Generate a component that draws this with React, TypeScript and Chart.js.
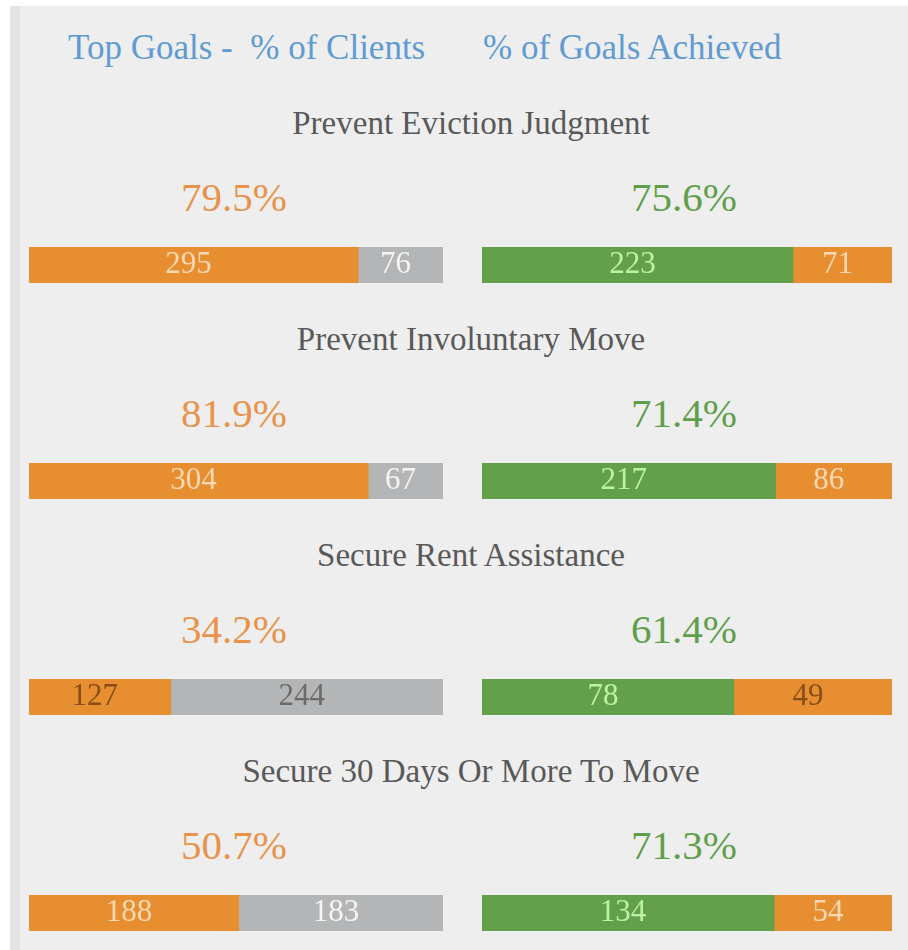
import React, { useEffect, useRef } from "react";
import { Chart, registerables } from "chart.js";

Chart.register(...registerables);

// ---- data ----
const goals = [
  "Prevent Eviction Judgment",
  "Prevent Involuntary Move",
  "Secure Rent Assistance",
  "Secure 30 Days Or More To Move",
];
const clientsWithGoal = [295, 304, 127, 188];
const clientsWithoutGoal = [76, 67, 244, 183];
const goalsAchieved = [223, 217, 78, 134];
const goalsNotAchieved = [71, 86, 49, 54];
const clientPct = [79.5, 81.9, 34.2, 50.7];
const achievedPct = [75.6, 71.4, 61.4, 71.3];
const headerLeft = "Top Goals -  % of Clients";
const headerRight = "% of Goals Achieved";

// ---- styles ----
const ORANGE = "#e78f30";
const GRAY = "#b3b5b6";
const GREEN = "#62a04b";
const LIGHT_ORANGE_TXT = "#f9d9b4";
const LIGHT_GRAY_TXT = "#f4f4f4";
const LIGHT_GREEN_TXT = "#bdf1a6";
const DARK_ORANGE_TXT = "#8a4d18";
const DARK_GRAY_TXT = "#6b6b6b";
const SERIF = '"Liberation Serif", serif';

const leftLabelColors = [
  [LIGHT_ORANGE_TXT, LIGHT_GRAY_TXT],
  [LIGHT_ORANGE_TXT, LIGHT_GRAY_TXT],
  [DARK_ORANGE_TXT, DARK_GRAY_TXT],
  [LIGHT_ORANGE_TXT, LIGHT_GRAY_TXT],
];
const rightLabelColors = [
  [LIGHT_GREEN_TXT, LIGHT_ORANGE_TXT],
  [LIGHT_GREEN_TXT, LIGHT_ORANGE_TXT],
  [LIGHT_GREEN_TXT, DARK_ORANGE_TXT],
  [LIGHT_GREEN_TXT, LIGHT_ORANGE_TXT],
];

const segmentLabels = {
  id: "segmentLabels",
  afterDatasetsDraw(chart: any) {
    const ctx = chart.ctx;
    chart.data.datasets.forEach((ds: any, i: number) => {
      const el = chart.getDatasetMeta(i).data[0];
      if (!el) return;
      const p = el.getProps(["x", "base", "y"], true);
      ctx.save();
      ctx.font = `31px ${SERIF}`;
      ctx.fillStyle = ds.labelColor;
      ctx.textAlign = "center";
      ctx.textBaseline = "alphabetic";
      ctx.fillText(String(ds.data[0]), (p.x + p.base) / 2 - 5, p.y + 8);
      ctx.restore();
    });
  },
};

function StackBar(props: {
  left: number;
  top: number;
  width: number;
  height: number;
  values: number[];
  colors: string[];
  labelColors: string[];
}) {
  const ref = useRef<HTMLCanvasElement | null>(null);
  const { values, colors, labelColors, width, height } = props;
  useEffect(() => {
    if (!ref.current) return;
    const total = values.reduce((a, b) => a + b, 0);
    const chart = new Chart(ref.current, {
      type: "bar",
      data: {
        labels: [""],
        datasets: values.map((v, i) => ({
          data: [v],
          backgroundColor: colors[i],
          borderWidth: 0,
          barPercentage: 1,
          categoryPercentage: 1,
          labelColor: labelColors[i],
        })) as any,
      },
      options: {
        indexAxis: "y",
        responsive: false,
        animation: false,
        devicePixelRatio: 1,
        layout: { padding: 0 },
        plugins: { legend: { display: false }, tooltip: { enabled: false } },
        scales: {
          x: { stacked: true, min: 0, max: total, display: false },
          y: { stacked: true, display: false },
        },
      },
      plugins: [segmentLabels],
    });
    return () => chart.destroy();
  }, []);
  return (
    <canvas
      ref={ref}
      width={width}
      height={height}
      style={{
        position: "absolute",
        left: props.left,
        top: props.top,
        width,
        height,
        display: "block",
      }}
    />
  );
}

export default function App() {
  const ROW = 216;
  return (
    <div
      style={{
        position: "absolute",
        left: 0,
        top: 0,
        width: 908,
        height: 950,
        background: "#ffffff",
        overflow: "hidden",
        fontFamily: SERIF,
      }}
    >
      <div
        style={{
          position: "absolute",
          left: 10,
          top: 6,
          width: 898,
          height: 944,
          background: "#eeeeee",
          borderLeft: "10px solid #e3e3e3",
          boxSizing: "border-box",
        }}
      />
      <div
        style={{
          position: "absolute",
          left: 68,
          top: 29.5,
          fontSize: 35,
          lineHeight: "35px",
          color: "#5f9bd3",
          whiteSpace: "pre",
          fontFamily: SERIF,
        }}
      >
        {headerLeft}
      </div>
      <div
        style={{
          position: "absolute",
          left: 483,
          top: 29.5,
          fontSize: 35,
          lineHeight: "35px",
          color: "#5f9bd3",
          whiteSpace: "pre",
          fontFamily: SERIF,
        }}
      >
        {headerRight}
      </div>
      {goals.map((g, i) => (
        <React.Fragment key={g}>
          <div
            style={{
              position: "absolute",
              left: 71,
              width: 800,
              top: 106.5 + i * ROW,
              fontSize: 33,
              lineHeight: "33px",
              textAlign: "center",
              color: "#595959",
              whiteSpace: "pre",
              fontFamily: SERIF,
            }}
          >
            {g}
          </div>
          <div
            style={{
              position: "absolute",
              left: 27,
              width: 414,
              top: 176.5 + i * ROW,
              fontSize: 41,
              lineHeight: "41px",
              textAlign: "center",
              color: "#e9924a",
              fontFamily: SERIF,
            }}
          >
            {clientPct[i].toFixed(1) + "%"}
          </div>
          <div
            style={{
              position: "absolute",
              left: 479,
              width: 410,
              top: 176.5 + i * ROW,
              fontSize: 41,
              lineHeight: "41px",
              textAlign: "center",
              color: "#5f9f4c",
              fontFamily: SERIF,
            }}
          >
            {achievedPct[i].toFixed(1) + "%"}
          </div>
          <StackBar
            left={29}
            top={247 + i * ROW}
            width={414}
            height={36}
            values={[clientsWithGoal[i], clientsWithoutGoal[i]]}
            colors={[ORANGE, GRAY]}
            labelColors={leftLabelColors[i]}
          />
          <StackBar
            left={482}
            top={247 + i * ROW}
            width={410}
            height={36}
            values={[goalsAchieved[i], goalsNotAchieved[i]]}
            colors={[GREEN, ORANGE]}
            labelColors={rightLabelColors[i]}
          />
        </React.Fragment>
      ))}
    </div>
  );
}
